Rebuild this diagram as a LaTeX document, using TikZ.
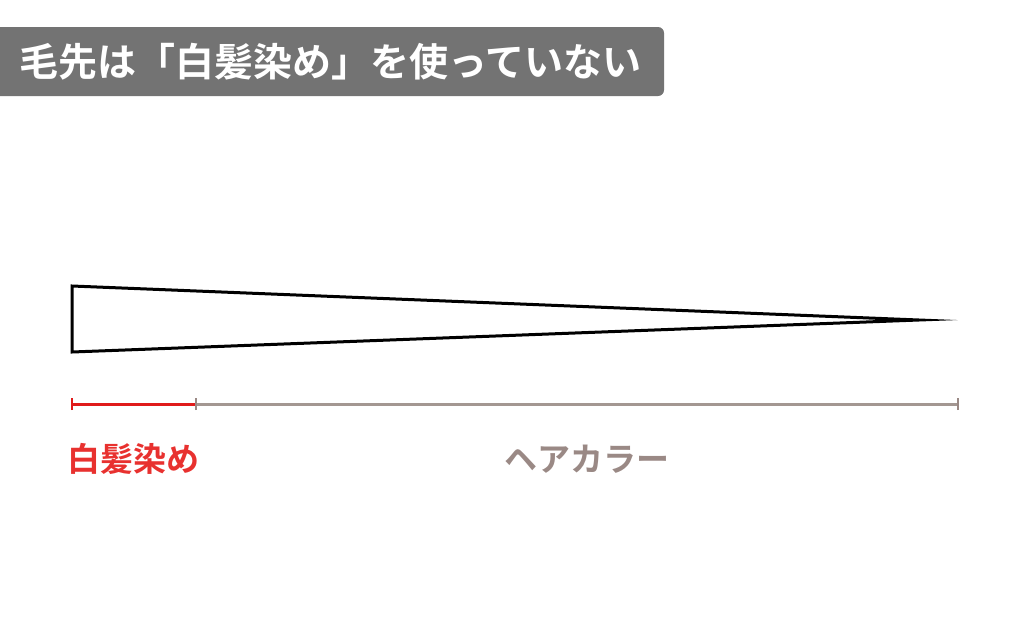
\documentclass[tikz,border=0pt]{standalone}
\usepackage{fontspec}
\newfontfamily\cjk{Noto Sans CJK JP Bold}
\definecolor{titlebg}{HTML}{737373}
\definecolor{redc}{HTML}{E8312F}
\definecolor{redbar}{HTML}{E01B1B}
\definecolor{greyc}{HTML}{9A8985}
\definecolor{greybar}{HTML}{A39792}
\tikzset{
  lbl/.style={inner sep=0pt, font=\cjk\fontsize{33}{33}\selectfont},
  tick/.style={line width=2.5pt},
}
\begin{document}
\begin{tikzpicture}[x=1pt,y=-1pt]
\useasboundingbox (0,0) rectangle (1024,640);
% title
\fill[titlebg, rounded corners=6pt] (-10,27) rectangle (664,96);
\node[anchor=west, inner sep=0pt, text=white, font=\cjk\fontsize{39}{39}\selectfont] (title) at (19,62) {毛先は「白髪染め」を使っていない};
% hair
\draw[line width=3pt, miter limit=100] (72,286) -- (919,320) -- (72,352) -- cycle;
% bars
\coordinate (a) at (72,404);
\coordinate (b) at (196,404);
\coordinate (c) at (958,404);
\draw[greybar, line width=3pt] (b) -- (c);
\draw[redbar, line width=3pt] (a) -- (b);
\draw[redbar, tick] ([yshift=-6]a) -- ([yshift=6]a);
\draw[greyc, tick] ([yshift=-6]b) -- ([yshift=6]b);
\draw[greyc, tick] ([yshift=-6]c) -- ([yshift=6]c);
% labels
\node[lbl, text=redc] (l1) at (133,459) {白髪染め};
\node[lbl, text=greyc] (l2) at (587,459) {ヘアカラー};
\end{tikzpicture}
\end{document}
